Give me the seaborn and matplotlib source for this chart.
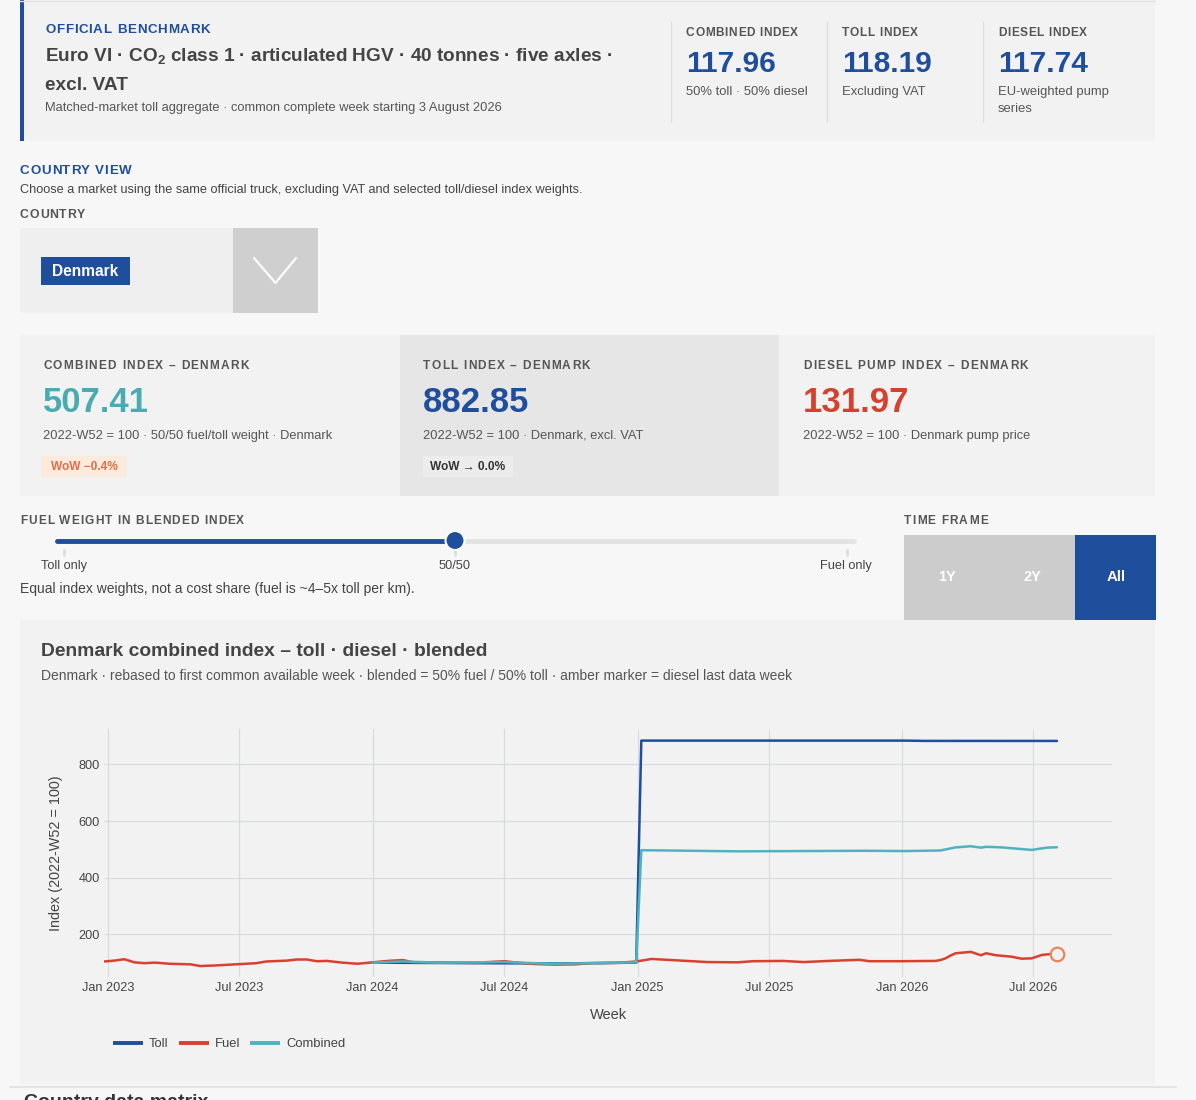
import pandas as pd
import matplotlib
matplotlib.use("Agg")
import matplotlib.pyplot as plt
import matplotlib.dates as mdates
from matplotlib.patches import Rectangle, Circle
from matplotlib.lines import Line2D
from matplotlib.font_manager import FontProperties, findfont, get_font
import seaborn as sns

# weekly index values (2022-W52 = 100)
fuel_weeks = ["2022-12-26", "2023-01-09", "2023-01-23", "2023-02-06", "2023-02-20", "2023-03-06",
              "2023-03-27", "2023-04-24", "2023-05-08", "2023-05-29", "2023-06-19", "2023-07-03",
              "2023-07-24", "2023-08-07", "2023-09-04", "2023-09-18", "2023-10-02", "2023-10-16",
              "2023-10-30", "2023-11-20", "2023-12-11", "2024-01-01", "2024-01-22", "2024-02-12",
              "2024-02-26", "2024-03-25", "2024-05-20", "2024-07-01", "2024-07-15", "2024-08-12",
              "2024-09-09", "2024-10-07", "2024-10-28", "2024-12-02", "2024-12-30", "2025-01-06",
              "2025-01-20", "2025-02-10", "2025-03-10", "2025-04-07", "2025-05-19", "2025-06-09",
              "2025-07-21", "2025-08-18", "2025-09-22", "2025-11-03", "2025-11-17", "2025-12-29",
              "2026-02-16", "2026-02-23", "2026-03-02", "2026-03-09", "2026-03-16", "2026-04-06",
              "2026-04-20", "2026-04-27", "2026-05-11", "2026-06-01", "2026-06-15", "2026-06-29",
              "2026-07-13", "2026-07-20", "2026-08-03"]
fuel_index = [104, 107, 112, 101, 98, 100,
              96, 94, 88, 90, 93, 95,
              98, 104, 107, 111, 111, 105,
              106, 100, 96, 101, 106, 109,
              101, 101, 99, 105, 101, 95,
              93, 94, 98, 99, 104, 107,
              113, 110, 106, 102, 101, 105,
              106, 102, 106, 110, 105, 105,
              106, 109, 115, 125, 133, 138,
              126, 133, 126, 121, 114, 115,
              127, 129, 131.97]

toll_weeks = ["2024-01-01", "2024-03-04", "2024-06-03", "2024-09-02", "2024-12-02", "2024-12-30",
              "2025-01-06", "2025-06-02", "2026-01-05", "2026-02-02", "2026-08-03"]
toll_index = [100, 99, 98, 97, 99, 100,
              884, 884, 884, 883, 882.85]

comb_weeks = ["2024-01-01", "2024-02-12", "2024-04-01", "2024-07-01", "2024-09-02", "2024-10-28",
              "2024-12-30", "2025-01-06", "2025-02-10", "2025-05-19", "2025-08-18", "2025-11-10",
              "2026-01-05", "2026-02-23", "2026-03-16", "2026-04-06", "2026-04-20", "2026-04-27",
              "2026-05-18", "2026-06-29", "2026-07-20", "2026-08-03"]
comb_index = [100, 104, 100, 102, 96, 98,
              101, 497, 496, 493, 494, 495,
              494, 496, 507, 511, 506, 509,
              507, 498, 506, 507.41]

series_names = ["Toll", "Fuel", "Combined"]
series_colors = ["#1f4e9c", "#d8412f", "#4fb3bf"]

BLUE = "#1f4e9c"
PANEL = "#f2f2f2"

df = pd.concat([
    pd.DataFrame({"week": pd.to_datetime(w), "index": v, "series": n})
    for w, v, n in [(toll_weeks, toll_index, "Toll"),
                    (fuel_weeks, fuel_index, "Fuel"),
                    (comb_weeks, comb_index, "Combined")]
], ignore_index=True)

sns.set_theme(style="white")
plt.rcParams["font.family"] = ["Liberation Sans", "DejaVu Sans"]
plt.rcParams["mathtext.fontset"] = "custom"
plt.rcParams["mathtext.bf"] = "Liberation Sans:bold"
plt.rcParams["mathtext.rm"] = "Liberation Sans"

W, H = 1196, 1100
fig = plt.figure(figsize=(W / 100, H / 100), dpi=100, facecolor="#f7f7f7")

# background canvas in pixel units (y down)
bg = fig.add_axes([0, 0, 1, 1], zorder=0)
bg.set_xlim(0, W)
bg.set_ylim(H, 0)
bg.axis("off")


def box(x0, y0, x1, y1, color, **kw):
    bg.add_patch(Rectangle((x0, y0), x1 - x0, y1 - y0, facecolor=color, edgecolor="none", **kw))


def txt(x, y, s, size=9, color="#555555", weight="normal", ha="left", va="center", **kw):
    bg.text(x, y, s, fontsize=size, color=color, fontweight=weight, ha=ha, va=va, **kw)


def caps(x, y, s, size=8.6, color="#555555", spacing=1.0):
    # uppercase label with letter spacing, glyph by glyph using font advances
    fp = FontProperties(family="Liberation Sans", weight="bold", size=size)
    font = get_font(findfont(fp))
    font.set_size(size, 100)
    xpos = x
    for ch in s:
        if ch != " ":
            bg.text(xpos, y, ch, fontproperties=fp, color=color, ha="left", va="center")
        xpos += font.load_char(ord(ch)).linearHoriAdvance / 65536 + spacing


# ---- header ----
box(20, 0, 1155, 141, PANEL)
box(20, 0, 24, 141, BLUE)
bg.plot([20, 1155], [1, 1], color="#e2e2e2", lw=1)
caps(45, 30, "OFFICIAL BENCHMARK", 9.6, BLUE, 0.7)
txt(45, 57, r"Euro VI · CO$_\mathbf{2}$ class 1 · articulated HGV · 40 tonnes · five axles ·", 13.7, "#444444", "bold")
txt(45, 85, "excl. VAT", 13.7, "#444444", "bold")
txt(45, 108, "Matched-market toll aggregate · common complete week starting 3 August 2026", 9.25, "#555555")

for xd in [671, 827, 983]:
    bg.plot([xd, xd], [22, 122], color="#dedede", lw=1)
kpis = [(686, "COMBINED INDEX", "117.96", ["50% toll · 50% diesel"]),
        (842, "TOLL INDEX", "118.19", ["Excluding VAT"]),
        (998, "DIESEL INDEX", "117.74", ["EU-weighted pump", "series"])]
for x, lab, val, sub in kpis:
    caps(x, 33, lab, 8.6, "#555555", 0.6)
    txt(x, 64, val, 21.5, BLUE, "bold")
    for i, s in enumerate(sub):
        txt(x, 92 + i * 17, s, 9.4, "#555555")

# ---- country view ----
caps(20, 171, "COUNTRY VIEW", 9.6, BLUE, 0.65)
txt(20, 190, "Choose a market using the same official truck, excluding VAT and selected toll/diesel index weights.", 9.2, "#444444")
caps(20, 215, "COUNTRY", 8.8, "#555555", 0.8)
box(20, 228, 233, 313, "#efefef")
box(233, 228, 318, 313, "#cfcfcf")
bg.plot([254, 275.5, 296], [258, 283, 258], color="white", lw=1.6)
box(41, 257, 130, 285, BLUE)
txt(85.5, 271, "Denmark", 11.2, "white", "bold", ha="center")

# ---- country KPI cards ----
box(20, 335, 400, 496, PANEL)
box(400, 335, 779, 496, "#e6e6e6")
box(779, 335, 1155, 496, PANEL)
cards = [(43, "COMBINED INDEX – DENMARK", "507.41", "#4aabb3", "2022-W52 = 100 · 50/50 fuel/toll weight · Denmark"),
         (423, "TOLL INDEX – DENMARK", "882.85", BLUE, "2022-W52 = 100 · Denmark, excl. VAT"),
         (803, "DIESEL PUMP INDEX – DENMARK", "131.97", "#d5412f", "2022-W52 = 100 · Denmark pump price")]
for x, lab, val, col, sub in cards:
    caps(x, 366, lab, 8.6, "#555555", 1.2)
    txt(x, 402, val, 25, col, "bold")
    txt(x, 436, sub, 9.25, "#555555")
box(41, 456, 127, 477, "#fcebdc")
txt(84, 466.5, "WoW −0.4%", 8.6, "#e26d4a", "bold", ha="center")
box(423, 456, 513, 477, "#ececec")
txt(468, 466.5, "WoW → 0.0%", 8.6, "#333333", "bold", ha="center")

# ---- fuel weight slider ----
caps(20, 521, "FUEL WEIGHT IN BLENDED INDEX", 8.6, "#555555", 1.0)
bg.plot([57, 854], [540.5, 540.5], color="#e3e3e3", lw=3.5, solid_capstyle="round")
bg.plot([57, 455], [540.5, 540.5], color=BLUE, lw=3.5, solid_capstyle="round")
for xt in [64, 455, 847]:
    bg.plot([xt, xt], [550, 555], color="#dddddd", lw=2)
bg.add_patch(Circle((455, 540.5), 9.5, facecolor=BLUE, edgecolor="white", lw=1.5, zorder=3))
txt(41, 566, "Toll only", 9.2, "#444444")
txt(455, 566, "50/50", 9.2, "#444444", ha="center")
txt(872, 566, "Fuel only", 9.2, "#444444", ha="right")
txt(20, 589, "Equal index weights, not a cost share (fuel is ~4–5x toll per km).", 10, "#444444")

# ---- time frame buttons ----
caps(904, 521, "TIME FRAME", 8.6, "#555555", 1.1)
box(904, 535, 1075, 620, "#cccccc")
box(1075, 535, 1156, 620, BLUE)
txt(947, 577, "1Y", 10.5, "white", "bold", ha="center")
txt(1032, 577, "2Y", 10.5, "white", "bold", ha="center")
txt(1116, 577, "All", 10.8, "white", "bold", ha="center")

# ---- chart panel ----
box(20, 620, 1155, 1084, PANEL)
txt(41, 651, "Denmark combined index – toll · diesel · blended", 13.85, "#444444", "bold")
txt(41, 676, "Denmark · rebased to first common available week · blended = 50% fuel / 50% toll · amber marker = diesel last data week", 10, "#555555")
txt(56, 853, "Index (2022-W52 = 100)", 10.4, "#444444", rotation=90, ha="center")
txt(608, 1015, "Week", 10.5, "#444444", ha="center")

bg.plot([10, 1176], [1087, 1087], color="#e4e4e4", lw=1.5)
txt(24, 1094, "Country data matrix", 14, "#333333", "bold", va="top")

# ---- the line chart ----
ax = fig.add_axes([104 / W, 1 - 976.5 / H, (1112 - 104) / W, (976.5 - 729) / H], zorder=1)
ax.set_facecolor(PANEL)
sns.lineplot(data=df, x="week", y="index", hue="series", hue_order=series_names,
             palette=series_colors, estimator=None, sort=True, lw=1.8, legend=False, ax=ax)
last = df[df["series"] == "Fuel"].iloc[-1]
ax.scatter([last["week"]], [last["index"]], s=95, facecolor=PANEL, edgecolor="#e8835c",
           linewidth=1.6, zorder=5)

ax.set_xlim(pd.Timestamp("2022-12-26"), pd.Timestamp("2026-10-18"))
ax.set_ylim(51, 925)
ax.set_yticks([200, 400, 600, 800])
ax.xaxis.set_major_locator(mdates.MonthLocator(bymonth=[1, 7]))
ax.xaxis.set_major_formatter(mdates.DateFormatter("%b %Y"))
ax.grid(True, color="#d8dce2", lw=0.9)
ax.set_axisbelow(True)
for sp in ax.spines.values():
    sp.set_visible(False)
ax.tick_params(length=0, labelsize=9.2, labelcolor="#444444", pad=4)
ax.tick_params(axis="y", pad=3)
ax.set_xlabel("")
ax.set_ylabel("")

handles = [Line2D([], [], color=c, lw=2.8, solid_capstyle="butt") for c in series_colors]
fig.legend(handles, series_names, loc="center left", bbox_to_anchor=(106 / W, 1 - 1044 / H),
           ncol=3, frameon=False, fontsize=9.4, handlelength=2.3, handletextpad=0.45,
           columnspacing=0.8, borderpad=0, labelcolor="#444444")

fig.savefig("out.png", dpi=100, facecolor=fig.get_facecolor())
